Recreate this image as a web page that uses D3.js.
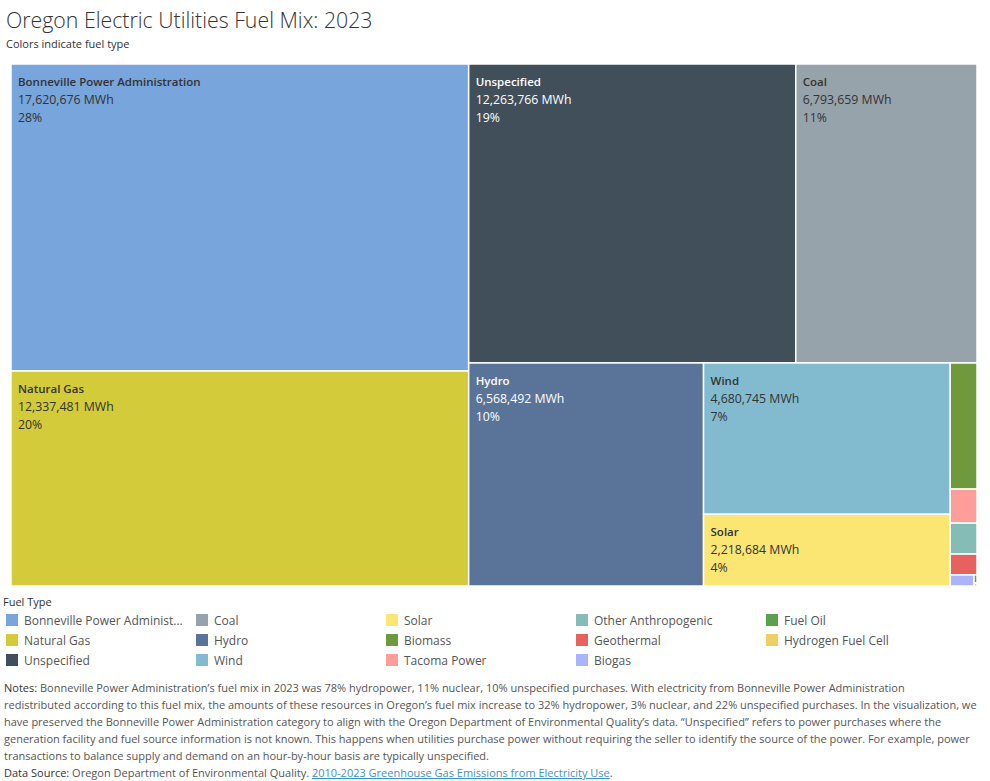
<!DOCTYPE html>
<html>
<head>
<meta charset="utf-8">
<script src="https://cdn.jsdelivr.net/npm/d3@7.9.0/dist/d3.min.js"></script>
<style>
  body { margin: 0; background: #fff; }
  svg { display: block; font-family: "Open Sans", sans-serif; }
</style>
</head>
<body>
<svg id="chart" width="990" height="781"></svg>
<script>
// fuel mix values (MWh)
const fuels = ["Bonneville Power Administration", "Natural Gas", "Unspecified", "Coal", "Hydro",
  "Wind", "Solar", "Biomass", "Tacoma Power", "Other Anthropogenic", "Geothermal", "Biogas",
  "Fuel Oil", "Hydrogen Fuel Cell"];
const mwh = [17620676, 12337481, 12263766, 6793659, 6568492, 4680745, 2218684,
  423000, 114000, 104000, 70000, 33000, 3000, 1100];
const legendNames = ["Bonneville Power Administ...", "Natural Gas", "Unspecified", "Coal", "Hydro",
  "Wind", "Solar", "Biomass", "Tacoma Power", "Other Anthropogenic", "Geothermal", "Biogas",
  "Fuel Oil", "Hydrogen Fuel Cell"];
const colors = ["#77a5dc", "#d4cb3a", "#414f5a", "#97a3ab", "#5a7399", "#82bbd0", "#fbe673",
  "#6e993c", "#fe9d9a", "#86bcb6", "#e5625f", "#aab4fd", "#59a14f", "#f1ce63"];
const whiteText = ["Unspecified", "Hydro"];

const notes = [
  "Bonneville Power Administration’s fuel mix in 2023 was 78% hydropower, 11% nuclear, 10% unspecified purchases. With electricity from Bonneville Power Administration",
  "redistributed according to this fuel mix, the amounts of these resources in Oregon’s fuel mix increase to 32% hydropower, 3% nuclear, and 22% unspecified purchases. In the visualization, we",
  "have preserved the Bonneville Power Administration category to align with the Oregon Department of Environmental Quality’s data. “Unspecified” refers to power purchases where the",
  "generation facility and fuel source information is not known. This happens when utilities purchase power without requiring the seller to identify the source of the power. For example, power",
  "transactions to balance supply and demand on an hour-by-hour basis are typically unspecified."
];

const svg = d3.select("#chart");
const color = d3.scaleOrdinal(fuels, colors);
const total = d3.sum(mwh);
const fmt = d3.format(",");

svg.append("text")
  .attr("x", 6).attr("y", 28)
  .attr("font-size", 21.3).attr("font-weight", 300).attr("fill", "#333")
  .text("Oregon Electric Utilities Fuel Mix: 2023");
svg.append("text")
  .attr("x", 6).attr("y", 48)
  .attr("font-size", 11).attr("fill", "#333")
  .text("Colors indicate fuel type");

// treemap
const tm = { x: 11, y: 64, w: 966, h: 522 };
const root = d3.hierarchy({ children: fuels.map((f, i) => ({ name: f, value: mwh[i] })) })
  .sum(d => d.value)
  .sort((a, b) => b.value - a.value);
d3.treemap().size([tm.w, tm.h]).tile(d3.treemapSquarify)(root);

const g = svg.append("g").attr("transform", `translate(${tm.x},${tm.y})`);
const cell = g.selectAll("g").data(root.leaves()).join("g")
  .attr("transform", d => `translate(${d.x0},${d.y0})`);

cell.append("rect")
  .attr("width", d => d.x1 - d.x0)
  .attr("height", d => d.y1 - d.y0)
  .attr("fill", d => color(d.data.name))
  .attr("stroke", "#fff")
  .attr("stroke-width", 1.5);

const labelled = cell.filter(d => d.x1 - d.x0 > 80 && d.y1 - d.y0 > 60);
labelled.each(function(d) {
  const c = whiteText.includes(d.data.name) ? "#fff" : "#333";
  const lines = [d.data.name, fmt(d.data.value) + " MWh", Math.round(d.data.value / total * 100) + "%"];
  d3.select(this).selectAll("text").data(lines).join("text")
    .attr("x", 7)
    .attr("y", (t, i) => 22 + i * 18)
    .attr("font-size", (t, i) => i === 0 ? 11.5 : 12.3)
    .attr("font-weight", (t, i) => i === 0 ? 600 : 400)
    .attr("fill", c)
    .text(t => t);
});

// legend
const lg = svg.append("g").attr("transform", "translate(6,596)");
lg.append("text").attr("x", -3).attr("y", 10)
  .attr("font-size", 11).attr("fill", "#333").text("Fuel Type");
const item = lg.selectAll("g.item").data(fuels).join("g")
  .attr("class", "item")
  .attr("transform", (d, i) => `translate(${Math.floor(i / 3) * 190},${18 + (i % 3) * 20})`);
item.append("rect").attr("width", 12).attr("height", 12).attr("fill", d => color(d));
item.append("text").attr("x", 18).attr("y", 10.5)
  .attr("font-size", 12).attr("fill", "#555")
  .text((d, i) => legendNames[i]);

// notes
const nt = svg.append("g").attr("font-size", 11).attr("fill", "#555");
notes.forEach((line, i) => {
  const t = nt.append("text").attr("x", 4).attr("y", 692 + i * 17);
  if (i === 0) t.append("tspan").attr("fill", "#333").text("Notes: ");
  t.append("tspan").text(line);
});
const src = nt.append("text").attr("x", 4).attr("y", 692 + 5 * 17);
src.append("tspan").attr("fill", "#333").text("Data Source: ");
src.append("tspan").text("Oregon Department of Environmental Quality. ");
src.append("tspan").attr("fill", "#3d93bd").attr("text-decoration", "underline")
  .text("2010-2023 Greenhouse Gas Emissions from Electricity Use");
src.append("tspan").text(".");
</script>
</body>
</html>
